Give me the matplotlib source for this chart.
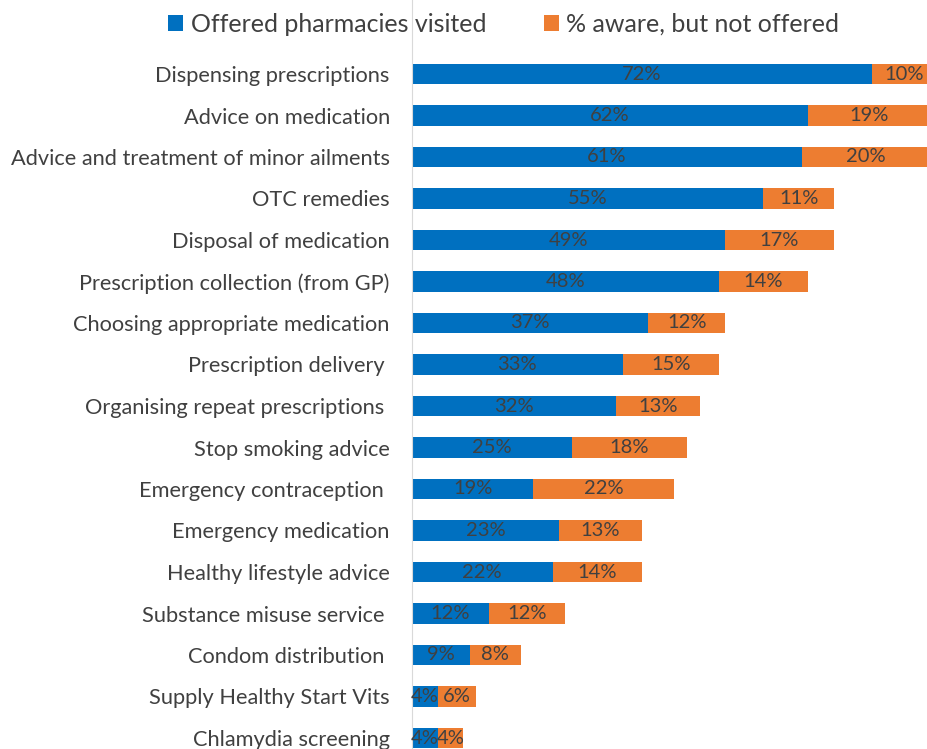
import matplotlib
matplotlib.use("Agg")
import matplotlib.pyplot as plt
import numpy as np

services = [
    "Dispensing prescriptions",
    "Advice on medication",
    "Advice and treatment of minor ailments",
    "OTC remedies",
    "Disposal of medication",
    "Prescription collection (from GP)",
    "Choosing appropriate medication",
    "Prescription delivery ",
    "Organising repeat prescriptions ",
    "Stop smoking advice",
    "Emergency contraception ",
    "Emergency medication",
    "Healthy lifestyle advice",
    "Substance misuse service ",
    "Condom distribution ",
    "Supply Healthy Start Vits",
    "Chlamydia screening",
]
offered = [72, 62, 61, 55, 49, 48, 37, 33, 32, 25, 19, 23, 22, 12, 9, 4, 4]
aware = [10, 19, 20, 11, 17, 14, 12, 15, 13, 18, 22, 13, 14, 12, 8, 6, 4]

blue = "#0070C0"
orange = "#ED7D31"
txt = "#404040"

plt.rcParams['font.family'] = ['Lato', 'DejaVu Sans']

fig = plt.figure(figsize=(9.28, 7.49), dpi=100)
ax = fig.add_axes([412/928, 0, 1 - 412/928, 1])

y = np.arange(len(services))
h1 = ax.barh(y, offered, height=0.5, color=blue, label="Offered pharmacies visited")
h2 = ax.barh(y, aware, left=offered, height=0.5, color=orange, label="% aware, but not offered")

for i in range(len(services)):
    ax.text(offered[i] / 2, y[i], f"{offered[i]}%", ha='center', va='center',
            fontsize=14.5, color=txt)
    ax.text(offered[i] + aware[i] / 2, y[i], f"{aware[i]}%", ha='center', va='center',
            fontsize=14.5, color=txt)

ax.set_xlim(0, (928 - 412) / 6.39)
ax.set_ylim((749 - 74) / 41.5, -74 / 41.5)
ax.set_yticks(y)
ax.set_yticklabels(services, fontsize=15.7, color=txt)
ax.tick_params(axis='y', length=0, pad=16)
ax.set_xticks([])
for s in ['top', 'right', 'bottom']:
    ax.spines[s].set_visible(False)
ax.spines['left'].set_color('#D9D9D9')

fig.legend(handles=[h1, h2], loc='center', bbox_to_anchor=(0.543, 1 - 24/749), ncol=2,
           frameon=False, fontsize=18, handlelength=0.6, handleheight=0.6,
           handletextpad=0.3, columnspacing=2.3, labelcolor=txt)

fig.savefig("out.png", dpi=100)
